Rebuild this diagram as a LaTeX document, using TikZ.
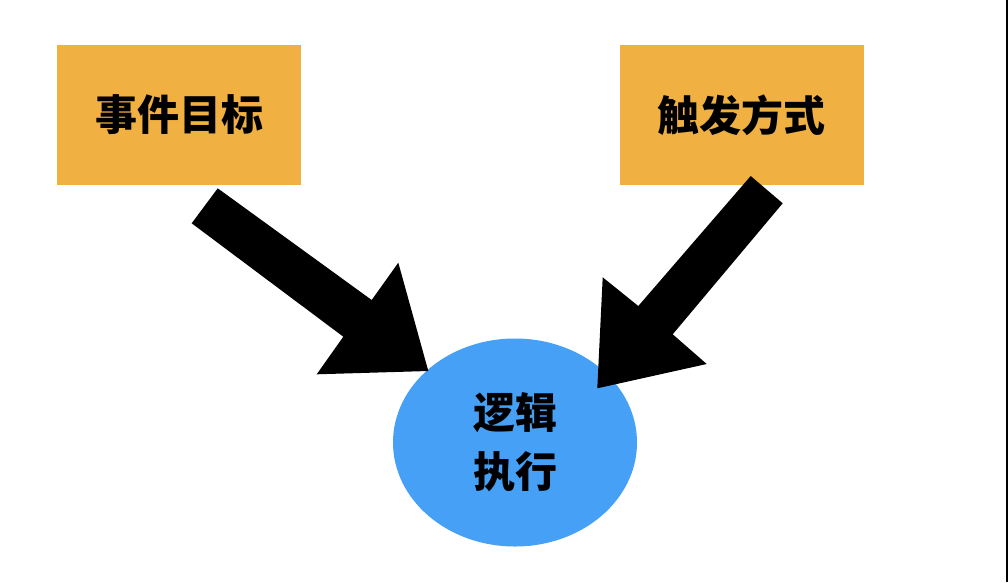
\documentclass[tikz,border=0pt]{standalone}
\usepackage{fontspec}
\newfontfamily\cjk{Noto Sans CJK SC}
\definecolor{boxorange}{RGB}{240,176,66}
\definecolor{ellblue}{RGB}{70,160,245}
\tikzset{
  taskbox/.style={fill=boxorange, draw=none, minimum width=244pt, minimum height=140pt, inner sep=0pt,
    font=\cjk\bfseries\fontsize{42}{59}\selectfont},
  goalell/.style={ellipse, fill=ellblue, draw=none, minimum width=244pt, minimum height=208pt, inner sep=0pt,
    align=center, font=\cjk\bfseries\fontsize{42}{59}\selectfont},
  blockarrow/.style={fill=black, draw=none}
}
\usetikzlibrary{shapes.geometric}
\begin{document}
\begin{tikzpicture}[x=1pt,y=-1pt]
\fill[white] (0,0) rectangle (1008,582);
\useasboundingbox (0,0) rectangle (1008,582);
\fill[black] (1006,0) rectangle (1008,582);
\node[taskbox] (target) at (179,115) {事件目标};
\node[taskbox] (trigger) at (741.5,115) {触发方式};
\node[goalell] (exec) at (515,442.5) {逻辑\\执行};
% left block arrow
\fill[blockarrow] (217.7,188.3) -- (371.7,300) -- (398.3,262.7) -- (428.3,371) -- (316.7,374.3) -- (343.3,336.7) -- (191.7,223.3) -- cycle;
% right block arrow
\fill[blockarrow] (750.7,176) -- (782.7,203.3) -- (672.7,334.3) -- (706.7,364) -- (597.3,388.3) -- (602.7,277.3) -- (638.3,306) -- cycle;
\end{tikzpicture}
\end{document}
